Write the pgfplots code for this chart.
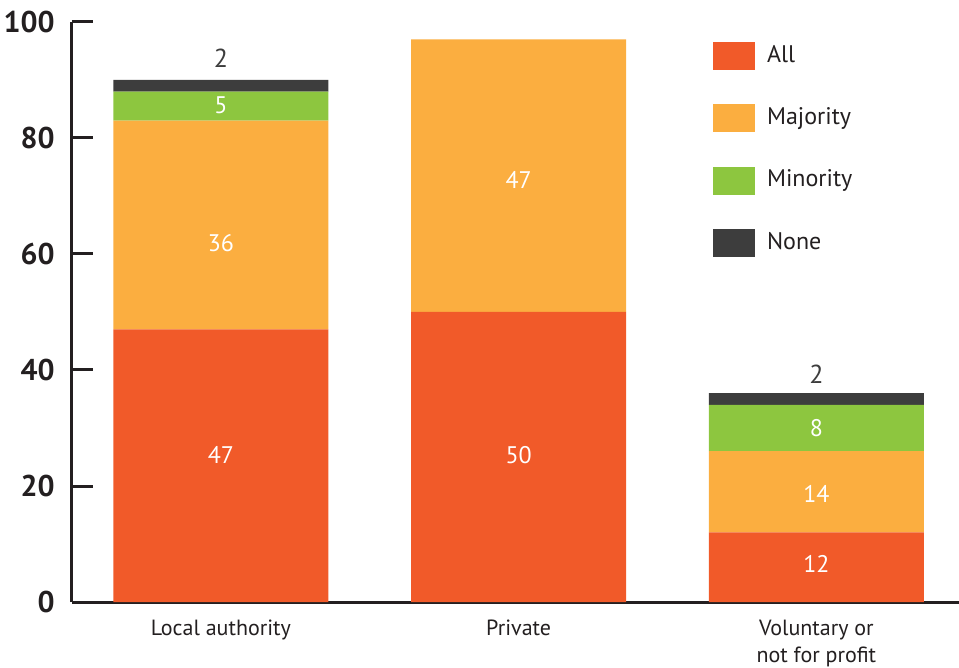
\documentclass[border=0pt]{standalone}
\usepackage{pgfplots}
\pgfplotsset{compat=1.18}
\usepackage{fontspec}
\setmainfont{PT Sans}
\definecolor{cAll}{HTML}{F15A29}
\definecolor{cMaj}{HTML}{FBAE40}
\definecolor{cMin}{HTML}{8DC63F}
\definecolor{cNone}{HTML}{3D3D3D}
\definecolor{axisc}{HTML}{231F20}
\begin{document}
\begin{tikzpicture}
\path[use as bounding box] (-36bp,-33bp) rectangle (443.5bp,301bp);
\begin{axis}[
  scale only axis, width=443.5bp, height=290bp,
  xmin=-0.5, xmax=2.479, ymin=0, ymax=100,
  ybar stacked, bar width=107.5bp,
  axis x line=bottom, axis y line=left,
  axis line style={-, line width=1.5bp, color=axisc},
  ytick={0,20,40,60,80,100},
  tick align=inside,
  major tick length=10.5bp,
  tick style={line width=1.5bp, color=axisc},
  yticklabel style={font=\fontsize{15bp}{18bp}\selectfont\bfseries, text=axisc, anchor=east, inner sep=0pt, xshift=-8.5bp},
  /pgf/number format/assume math mode=true,
  xtick=\empty,
  minor xtick={0.5,1.5},
  minor tick length=7bp,
  minor tick style={line width=1.5bp, color=axisc},
  extra x ticks={0,1,2},
  extra x tick labels={Local authority, Private, {Voluntary or\\not for profit}},
  extra x tick style={major tick length=0pt, tick style={draw=none},
    xticklabel style={font=\fontsize{11bp}{13.5bp}\selectfont, text=axisc, anchor=north, align=center, inner sep=0pt, yshift=-9bp}},
  legend image code/.code={\fill[#1,draw=none] (0bp,-7bp) rectangle (21bp,7bp);},
  legend cell align=left,
  legend style={at={(rel axis cs:0.7227,0.9655)}, anchor=north west, draw=none, fill=none,
    inner sep=0pt, outer sep=0pt, row sep=17.2bp,
    font=\fontsize{12bp}{14bp}\selectfont, text=axisc,
    nodes={inner sep=0pt, text height=8.5bp, text depth=2.5bp},
    /tikz/every odd column/.append style={column sep=6bp}},
]
\addplot[fill=cAll, draw=none] coordinates {(0,47) (1,50) (2,12)};
\addplot[fill=cMaj, draw=none] coordinates {(0,36) (1,47) (2,14)};
\addplot[fill=cMin, draw=none] coordinates {(0,5) (1,0) (2,8)};
\addplot[fill=cNone, draw=none] coordinates {(0,2) (1,0) (2,2)};
\legend{All, Majority, Minority, None}
\end{axis}
\begin{axis}[
  scale only axis, width=443.5bp, height=290bp,
  xmin=-0.5, xmax=2.479, ymin=0, ymax=100,
  hide axis, clip=false,
]
\addplot[draw=none, mark=none, nodes near coords, point meta=explicit symbolic,
  every node near coord/.append style={anchor=center, text=white, inner sep=0pt,
    font=\fontsize{12bp}{14bp}\selectfont}]
  table[meta=label] {
x y label
0 25.3 47
0 61.9 36
0 85.6 5
1 25.3 50
1 72.8 47
2 6.5 12
2 18.7 14
2 30.0 8
};
\addplot[draw=none, mark=none, nodes near coords, point meta=explicit symbolic,
  every node near coord/.append style={anchor=center, text=cNone, inner sep=0pt,
    font=\fontsize{13bp}{15bp}\selectfont}]
  table[meta=label] {
x y label
0 93.7 2
2 39.2 2
};
\end{axis}
\end{tikzpicture}
\end{document}
